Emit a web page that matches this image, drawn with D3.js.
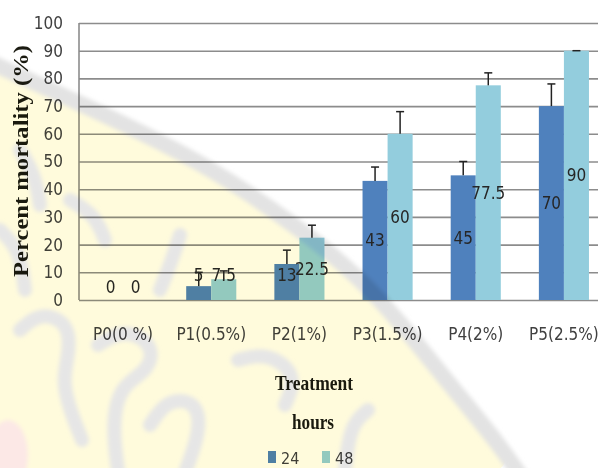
<!DOCTYPE html>
<html>
<head>
<meta charset="utf-8">
<script src="https://cdn.jsdelivr.net/npm/d3@7"></script>
<style>
  body { margin: 0; background: #fff; }
  svg { display: block; }
  .tick text { font-family: "Liberation Sans Narrow", "DejaVu Sans Condensed", "Liberation Sans", sans-serif; }
</style>
</head>
<body>
<script>
// data
const categories = ["P0(0 %)", "P1(0.5%)", "P2(1%)", "P3(1.5%)", "P4(2%)", "P5(2.5%)"];
const series = ["24", "48"];
const values24 = [0, 5, 13, 43, 45, 70];
const values48 = [0, 7.5, 22.5, 60, 77.5, 90];
const errors24 = [0, 5, 5, 5, 5, 8];
const errors48 = [0, 3, 4.5, 8, 4.5, 0];
const yTicks = [0, 10, 20, 30, 40, 50, 60, 70, 80, 90, 100];
const colors = ["#4f81bd", "#93cddd"];

const W = 598, H = 468;
const plotL = 79, plotR = 608, plotT = 23, plotB = 300;

const svg = d3.select("body").append("svg")
  .attr("width", W).attr("height", H);

const y = d3.scaleLinear().domain([0, 100]).range([plotB, plotT]);
const x0 = d3.scaleBand().domain(categories).range([plotL, plotR]);
const x1 = d3.scaleBand().domain(series).range([0, x0.bandwidth()]).paddingOuter(0.76);
const color = d3.scaleOrdinal().domain(series).range(colors);

// gridlines
svg.append("g")
  .attr("transform", `translate(${plotL},0)`)
  .call(d3.axisLeft(y).tickValues(yTicks).tickSize(-(W - plotL)).tickFormat(""))
  .call(g => g.select(".domain").remove())
  .call(g => g.selectAll("line").attr("stroke", "#8c8c8c").attr("stroke-width", 1.6));

// y axis line
svg.append("line")
  .attr("x1", plotL).attr("x2", plotL).attr("y1", y(100)).attr("y2", y(0))
  .attr("stroke", "#8c8c8c").attr("stroke-width", 1.6);

// y tick labels
svg.append("g")
  .attr("transform", `translate(${plotL},0)`)
  .call(d3.axisLeft(y).tickValues(yTicks).tickSize(0).tickPadding(16))
  .call(g => g.select(".domain").remove())
  .call(g => g.selectAll("text").attr("font-size", 17).attr("fill", "#404040"));

// x tick labels
svg.append("g")
  .attr("transform", `translate(0,${plotB})`)
  .call(d3.axisBottom(x0).tickSize(0).tickPadding(28))
  .call(g => g.select(".domain").remove())
  .call(g => g.selectAll("text").attr("font-size", 17).attr("fill", "#404040"));

const rows = categories.map((c, i) => ({
  cat: c,
  items: [
    { key: "24", v: values24[i], e: errors24[i] },
    { key: "48", v: values48[i], e: errors48[i] }
  ]
}));

const groups = svg.append("g").selectAll("g").data(rows).join("g")
  .attr("transform", d => `translate(${x0(d.cat)},0)`);

groups.selectAll("rect").data(d => d.items).join("rect")
  .attr("x", d => x1(d.key))
  .attr("width", x1.bandwidth())
  .attr("y", d => y(d.v))
  .attr("height", d => y(0) - y(d.v))
  .attr("fill", d => color(d.key));

// error bars (upper half only)
const err = groups.selectAll("g.err").data(d => d.items.filter(it => it.v > 0)).join("g")
  .attr("class", "err")
  .attr("stroke", "#222").attr("stroke-width", 1.5);
err.append("line")
  .attr("x1", d => x1(d.key) + x1.bandwidth() / 2)
  .attr("x2", d => x1(d.key) + x1.bandwidth() / 2)
  .attr("y1", d => y(d.v)).attr("y2", d => y(d.v + d.e));
err.append("line")
  .attr("x1", d => x1(d.key) + x1.bandwidth() / 2 - 4)
  .attr("x2", d => x1(d.key) + x1.bandwidth() / 2 + 4)
  .attr("y1", d => y(d.v + d.e)).attr("y2", d => y(d.v + d.e));

// value labels
groups.selectAll("text.val").data(d => d.items).join("text")
  .attr("class", "val")
  .attr("x", d => x1(d.key) + x1.bandwidth() / 2)
  .attr("y", d => y(d.v === 0 ? 4.5 : Math.max(d.v * 0.5, 9)))
  .attr("dy", "0.35em")
  .attr("text-anchor", "middle")
  .attr("font-family", "'Liberation Sans Narrow', 'DejaVu Sans Condensed', sans-serif")
  .attr("font-size", 17)
  .attr("fill", "#262626")
  .text(d => d.v);

// axis titles
svg.append("text")
  .attr("transform", "translate(28,161) rotate(-90)")
  .attr("text-anchor", "middle")
  .attr("font-family", "'Liberation Serif', 'DejaVu Serif', serif")
  .attr("font-weight", "bold")
  .attr("font-size", 20)
  .attr("fill", "#1a1a10")
  .attr("textLength", 232)
  .attr("lengthAdjust", "spacingAndGlyphs")
  .text("Percent mortality  (%)");

svg.append("text")
  .attr("x", 314).attr("y", 390)
  .attr("text-anchor", "middle")
  .attr("font-family", "'Liberation Serif', 'DejaVu Serif', serif")
  .attr("font-weight", "bold").attr("font-size", 21)
  .attr("fill", "#1a1a10")
  .attr("textLength", 78).attr("lengthAdjust", "spacingAndGlyphs")
  .text("Treatment");

svg.append("text")
  .attr("x", 313).attr("y", 429)
  .attr("text-anchor", "middle")
  .attr("font-family", "'Liberation Serif', 'DejaVu Serif', serif")
  .attr("font-weight", "bold").attr("font-size", 21)
  .attr("fill", "#1a1a10")
  .attr("textLength", 42).attr("lengthAdjust", "spacingAndGlyphs")
  .text("hours");

// legend
const legend = svg.append("g").selectAll("g").data(series).join("g")
  .attr("transform", (d, i) => `translate(${268 + i * 54},451)`);
legend.append("rect").attr("width", 8).attr("height", 12).attr("fill", d => color(d));
legend.append("text")
  .attr("x", 13).attr("y", 12.5)
  .attr("font-family", "'Liberation Sans Narrow', 'DejaVu Sans Condensed', sans-serif")
  .attr("font-size", 16).attr("fill", "#404040")
  .text(d => d);

// watermark overlay (soft, multiplied over the chart)
const defs = svg.append("defs");
defs.append("filter").attr("id", "soft")
  .append("feGaussianBlur").attr("stdDeviation", 2);

const wm = svg.append("g").style("mix-blend-mode", "multiply").attr("pointer-events", "none");
const line = d3.line().curve(d3.curveBasis);
const arc = [[-10, 62], [90, 108], [200, 160], [300, 228], [360, 278], [400, 322], [450, 385], [500, 445], [530, 490]];
wm.append("path")
  .attr("d", line(arc.concat([[-10, 490]])))
  .attr("fill", "#fffbdc");
const marks = wm.append("g").attr("filter", "url(#soft)");
marks.append("path")
  .attr("d", line(arc))
  .attr("fill", "none").attr("stroke", "#e3e3e3").attr("stroke-width", 16);
const strokes = [
  [[20, 330], [40, 312], [68, 322], [70, 350], [62, 380], [70, 410], [82, 440]],
  [[98, 345], [125, 328], [155, 345], [148, 372], [120, 385], [112, 425], [118, 470]],
  [[150, 425], [168, 398], [198, 402], [200, 432], [186, 470]],
  [[238, 360], [268, 352], [298, 375], [285, 405]],
  [[345, 470], [350, 425], [368, 410]],
  [[20, 150], [35, 175], [40, 205]],
  [[70, 200], [95, 215], [105, 240]],
  [[160, 290], [172, 260], [180, 235]],
  [[0, 230], [20, 250], [25, 290]]
];
marks.selectAll("path.s").data(strokes).join("path")
  .attr("class", "s")
  .attr("d", line)
  .attr("fill", "none").attr("stroke", "#e6e6e6").attr("stroke-width", 14)
  .attr("stroke-linecap", "round");
marks.append("ellipse")
  .attr("cx", 8).attr("cy", 455).attr("rx", 20).attr("ry", 35)
  .attr("fill", "#fce8e6");
</script>
</body>
</html>
